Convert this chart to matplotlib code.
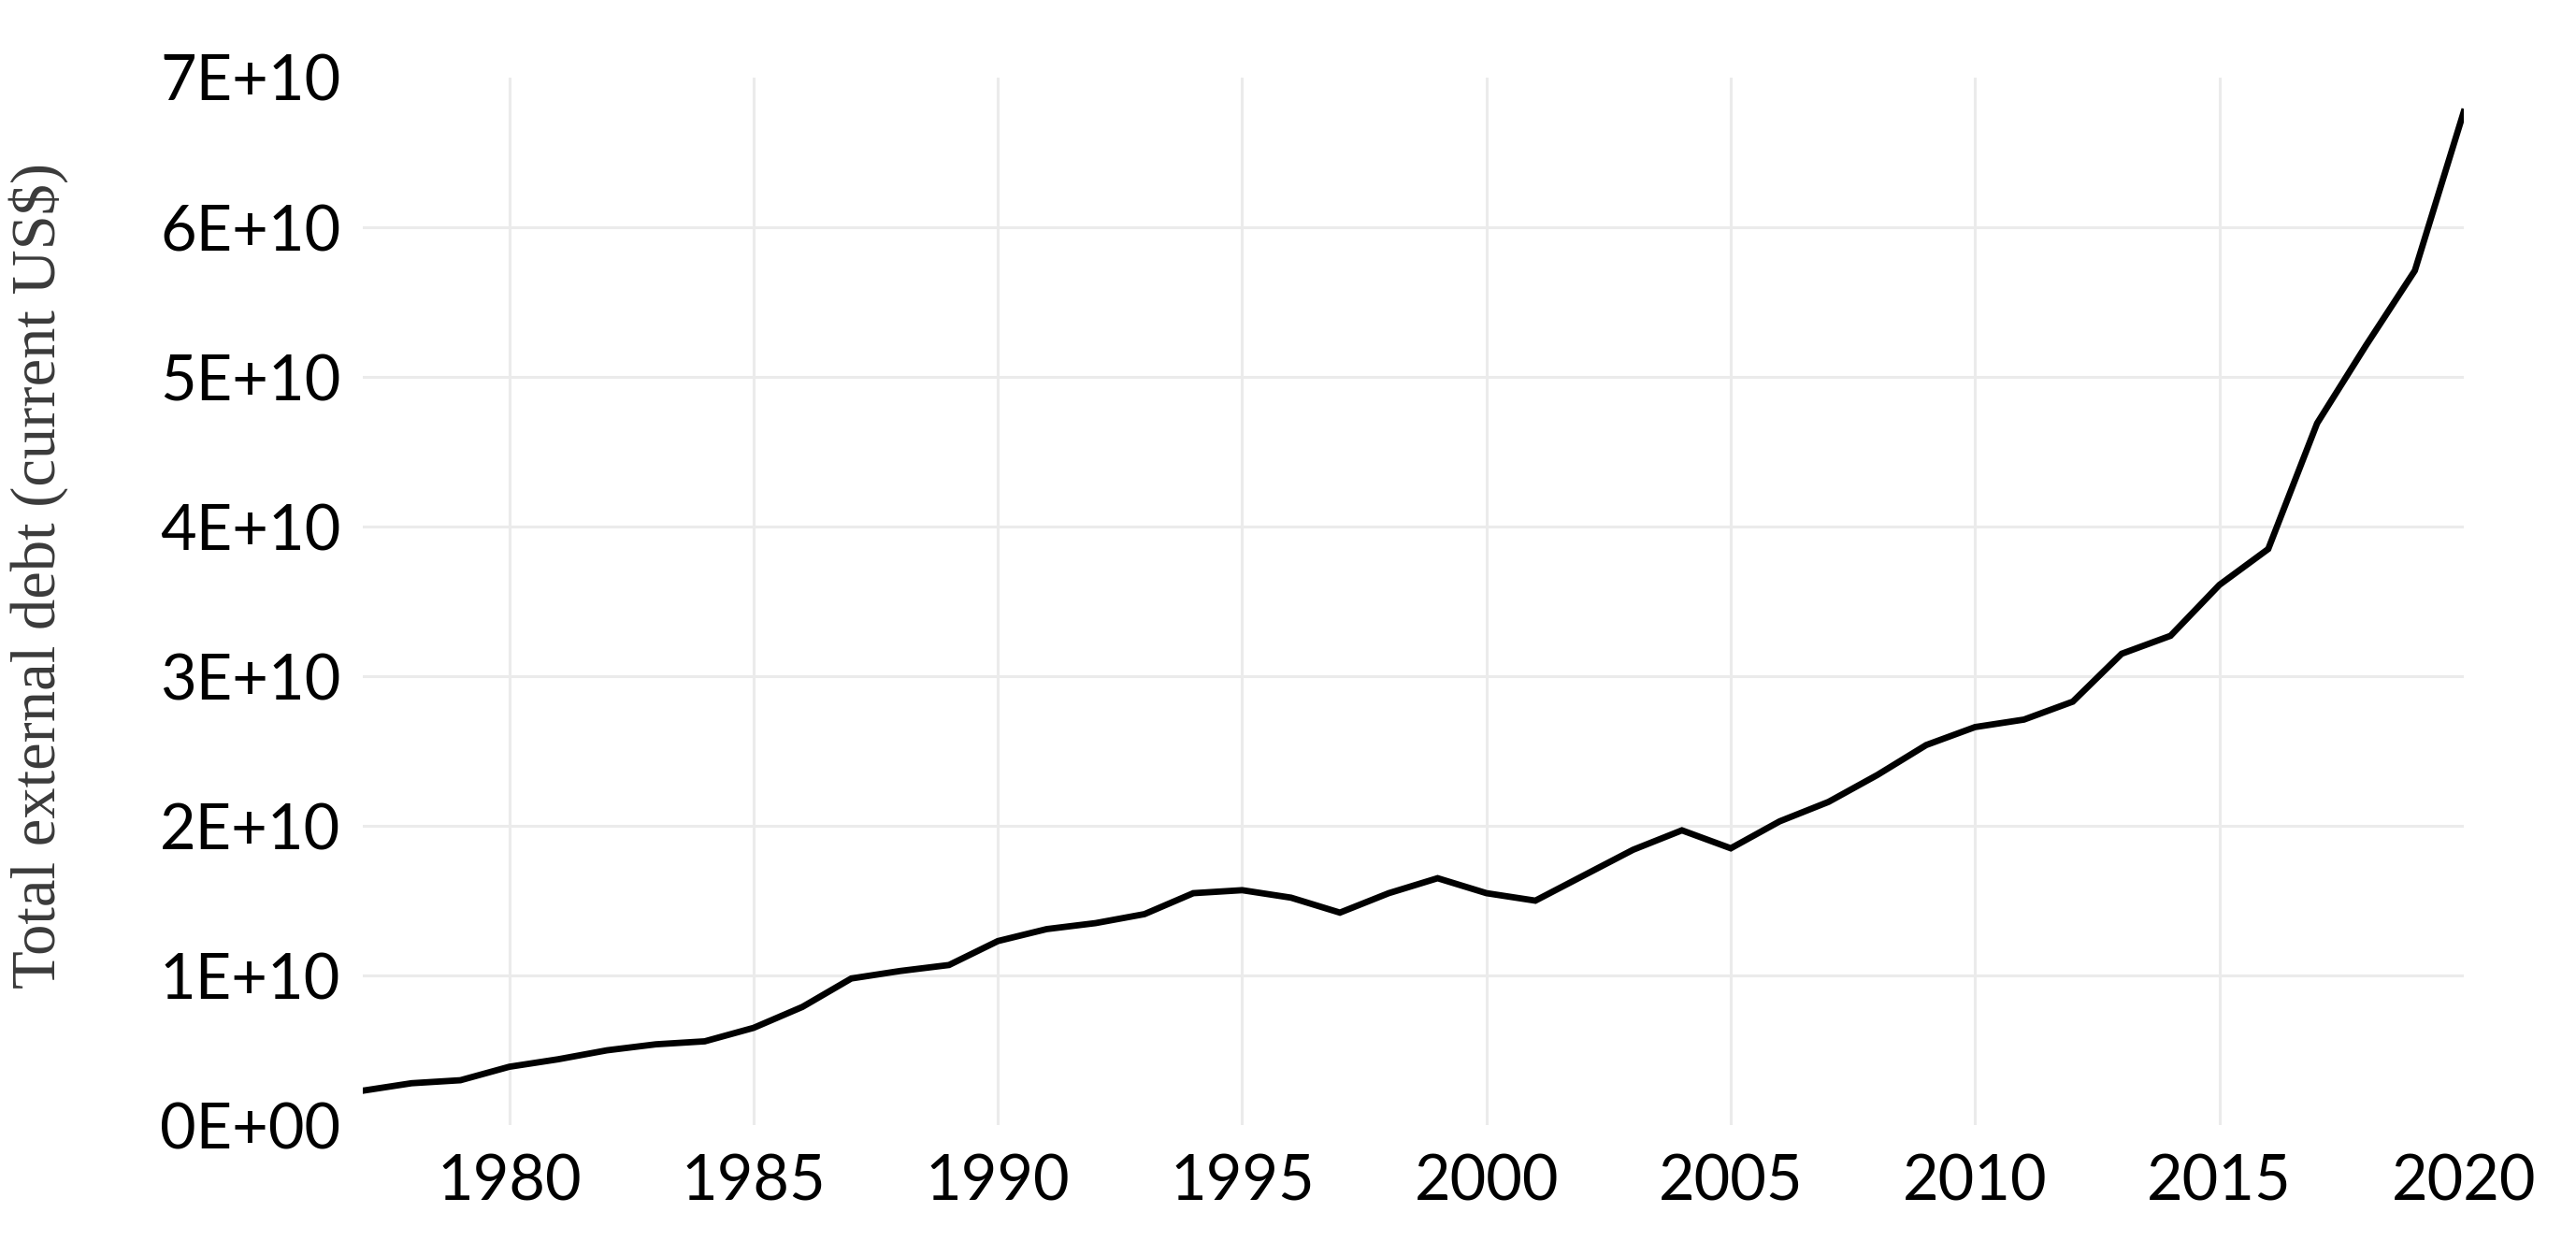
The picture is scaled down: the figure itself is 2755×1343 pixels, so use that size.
import matplotlib
matplotlib.use("Agg")
import matplotlib.pyplot as plt
from matplotlib.ticker import FixedLocator, FuncFormatter

years = list(range(1977, 2021))
debt_bn = [2.3, 2.8, 3.0, 3.9, 4.4, 5.0, 5.4, 5.6, 6.5, 7.9,
           9.8, 10.3, 10.7, 12.3, 13.1, 13.5, 14.1, 15.5, 15.7, 15.2,
           14.2, 15.5, 16.5, 15.5, 15.0, 16.7, 18.4, 19.7, 18.5, 20.3,
           21.6, 23.4, 25.4, 26.6, 27.1, 28.3, 31.5, 32.7, 36.1, 38.5,
           46.9, 52.1, 57.1, 67.7]
debt = [v * 1e9 for v in debt_bn]

x_ticks = [1980, 1985, 1990, 1995, 2000, 2005, 2010, 2015, 2020]
y_ticks = [0, 1e10, 2e10, 3e10, 4e10, 5e10, 6e10, 7e10]
y_tick_labels = ["0E+00", "1E+10", "2E+10", "3E+10", "4E+10", "5E+10", "6E+10", "7E+10"]
y_label = "Total external debt (current US$)"

fig = plt.figure(figsize=(27.55, 13.43), dpi=100)
ax = fig.add_axes([0.1408, 0.1042, 0.8156, 0.834])

ax.plot(years, debt, color="black", linewidth=4.9, solid_joinstyle="miter", zorder=3)

ax.set_xlim(1977, 2020)
ax.set_ylim(0, 7e10)
ax.xaxis.set_major_locator(FixedLocator(x_ticks))
ax.yaxis.set_major_locator(FixedLocator(y_ticks))
ax.yaxis.set_major_formatter(FuncFormatter(lambda v, p: y_tick_labels[y_ticks.index(v)] if v in y_ticks else ""))

for s in ax.spines.values():
    s.set_visible(False)

ax.grid(True, color="#ebebeb", linewidth=2.2, zorder=0)
ax.set_axisbelow(True)
ygl = ax.yaxis.get_gridlines()
ygl[0].set_visible(False)
ygl[-1].set_visible(False)
xgl = ax.xaxis.get_gridlines()
xgl[-1].set_visible(False)

ax.tick_params(axis="both", length=0, labelsize=48, labelcolor="#000000")
ax.tick_params(axis="x", pad=22)
ax.tick_params(axis="y", pad=17)
for lab in ax.get_xticklabels() + ax.get_yticklabels():
    lab.set_fontfamily("Lato")

ax.set_ylabel(y_label, fontsize=48, family="Liberation Serif", color="#3a3a3a")
ax.yaxis.set_label_coords(-0.140, 0.525)

fig.savefig("out.png", dpi=100, facecolor="white")
